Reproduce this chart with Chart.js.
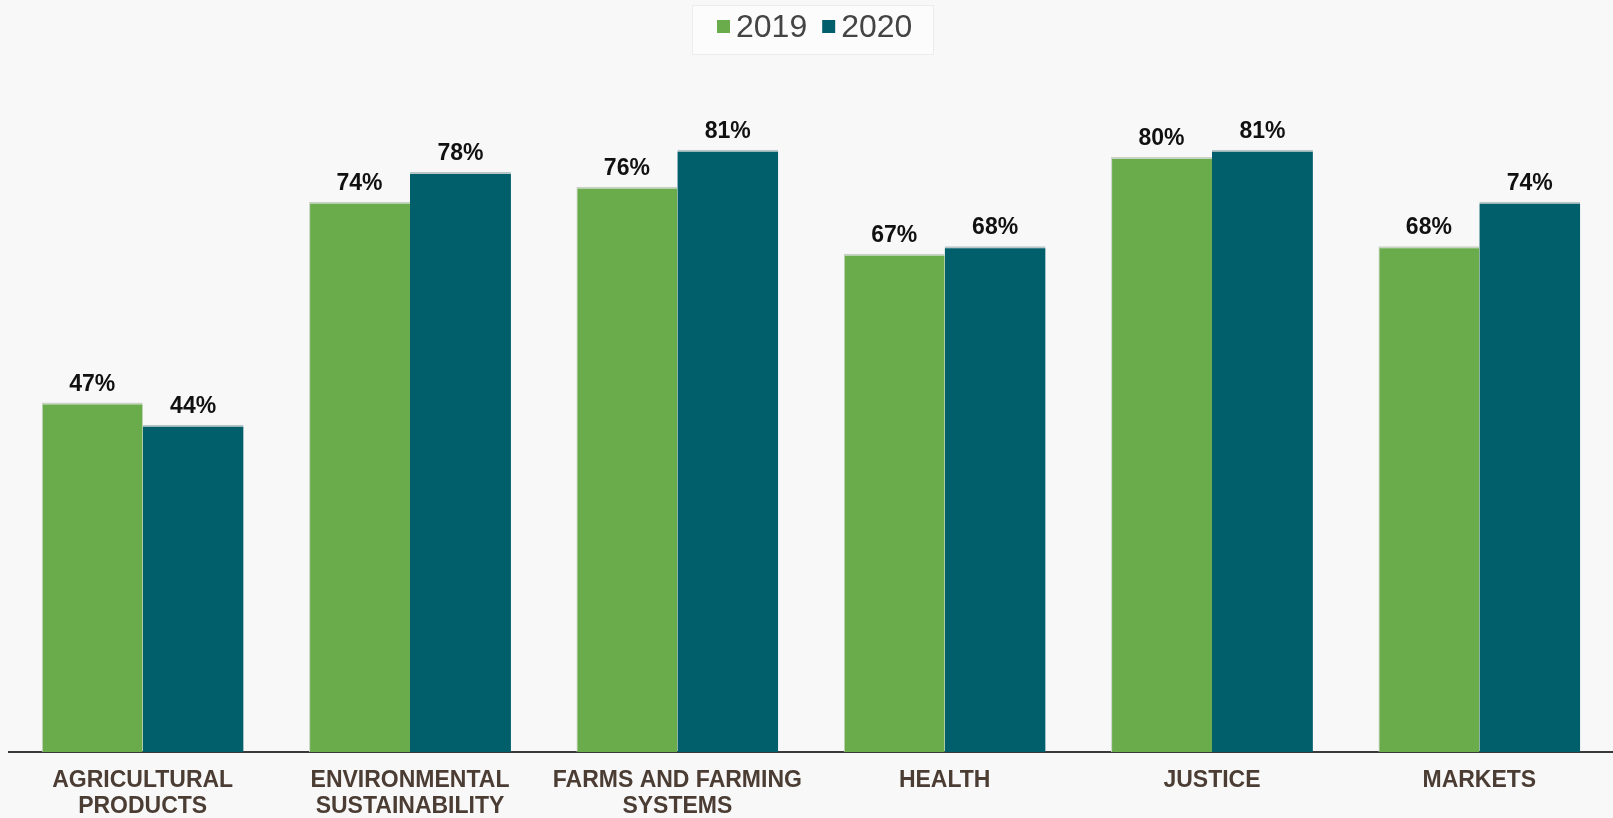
<!DOCTYPE html>
<html>
<head>
<meta charset="utf-8">
<script src="https://cdn.jsdelivr.net/npm/chart.js@4"></script>
<style>
    html, body { margin: 0; padding: 0; background: #f8f8f8; }
    #wrap { width: 1613px; height: 818px; position: relative; }
</style>
</head>
<body>
<div id="wrap"><canvas id="chart"></canvas></div>
<script>
const categories = [
    ['AGRICULTURAL', 'PRODUCTS'],
    ['ENVIRONMENTAL', 'SUSTAINABILITY'],
    ['FARMS AND FARMING', 'SYSTEMS'],
    'HEALTH',
    'JUSTICE',
    'MARKETS'
];
const values2019 = [47, 74, 76, 67, 80, 68];
const values2020 = [44, 78, 81, 68, 81, 74];
const seriesNames = ['2019', '2020'];

const green = '#6aac4c';
const teal = '#005f6b';

// percent labels above each bar
const valueLabels = {
    id: 'valueLabels',
    afterDatasetsDraw(chart) {
        const ctx = chart.ctx;
        ctx.save();
        ctx.font = 'bold 23px "Liberation Sans", Arial, sans-serif';
        ctx.fillStyle = '#111';
        ctx.textAlign = 'center';
        ctx.textBaseline = 'alphabetic';
        chart.data.datasets.forEach((ds, i) => {
            chart.getDatasetMeta(i).data.forEach((bar, j) => {
                ctx.fillText(ds.data[j] + '%', bar.x, bar.y - 12);
            });
        });
        ctx.restore();
    }
};

// legend in a light box, square markers close to the text
const topLegend = {
    id: 'topLegend',
    afterDraw(chart) {
        const ctx = chart.ctx;
        ctx.save();
        ctx.fillStyle = '#fcfcfc';
        ctx.strokeStyle = '#ececec';
        ctx.fillRect(692, 5, 241, 49);
        ctx.strokeRect(692.5, 5.5, 241, 49);

        ctx.font = '32px "Liberation Sans", Arial, sans-serif';
        ctx.textBaseline = 'alphabetic';
        ctx.textAlign = 'left';
        let x = 717;
        chart.data.datasets.forEach(ds => {
            ctx.fillStyle = ds.backgroundColor;
            ctx.fillRect(x, 20, 13, 13);
            x += 19;
            ctx.fillStyle = '#444';
            ctx.fillText(ds.label, x, 37);
            x += ctx.measureText(ds.label).width + 15;
        });
        ctx.restore();
    }
};

new Chart(document.getElementById('chart'), {
    type: 'bar',
    data: {
        labels: categories,
        datasets: [
            {
                label: seriesNames[0],
                data: values2019,
                backgroundColor: green,
                borderColor: '#c9d3c4',
                borderWidth: { top: 2, left: 1, right: 0, bottom: 0 },
                borderSkipped: false
            },
            {
                label: seriesNames[1],
                data: values2020,
                backgroundColor: teal,
                borderColor: '#b9c6c8',
                borderWidth: { top: 2, left: 0, right: 0, bottom: 0 },
                borderSkipped: false
            }
        ]
    },
    options: {
        responsive: true,
        maintainAspectRatio: false,
        animation: false,
        layout: { padding: { left: 9, right: 0, top: 53, bottom: 0 } },
        datasets: {
            bar: { categoryPercentage: 0.755, barPercentage: 1 }
        },
        plugins: {
            legend: { display: false },
            tooltip: { enabled: false }
        },
        scales: {
            x: {
                grid: { display: false, drawTicks: false },
                border: { display: true, color: '#3a3a3a', width: 2 },
                ticks: {
                    font: { family: '"Liberation Sans", Arial, sans-serif', size: 23, weight: 'bold', lineHeight: 1.13 },
                    color: '#4b3d34',
                    padding: 16,
                    maxRotation: 0,
                    autoSkip: false
                },
                afterFit(scale) { scale.height = 66; }
            },
            y: {
                display: false,
                min: 0,
                max: 94
            }
        }
    },
    plugins: [valueLabels, topLegend]
});
</script>
</body>
</html>
